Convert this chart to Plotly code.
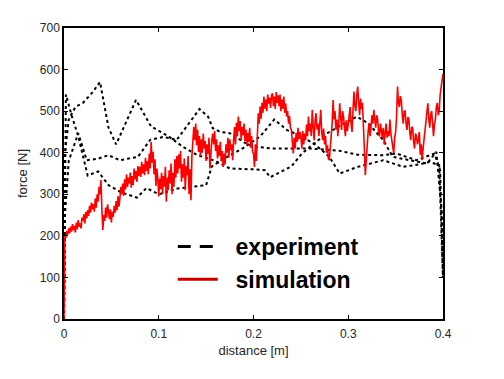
import numpy as np
import plotly.graph_objects as go

# ---------------- data ----------------
exp_a_x = [0, 0.001, 0.002, 0.008, 0.015, 0.025, 0.036, 0.047, 0.06, 0.077, 0.087, 0.1, 0.12,
           0.15, 0.156, 0.172, 0.189, 0.207, 0.222, 0.235, 0.25, 0.265, 0.28, 0.291, 0.31,
           0.337, 0.358, 0.375, 0.386, 0.396, 0.399, 0.4]
exp_a_y = [0, 300, 540, 490, 440, 345, 355, 322, 305, 292, 315, 300, 314,
           322, 367, 390, 411, 439, 480, 455, 440, 420, 390, 350, 366,
           382, 366, 372, 378, 370, 200, 100]

exp_b_x = [0, 0.001, 0.005, 0.012, 0.02, 0.03, 0.038, 0.047, 0.055, 0.065, 0.076, 0.092, 0.11,
           0.125, 0.14, 0.16, 0.175, 0.2, 0.212, 0.2175, 0.24, 0.251, 0.277, 0.309, 0.321,
           0.337, 0.347, 0.365, 0.383, 0.393, 0.399, 0.4]
exp_b_y = [0, 400, 480, 510, 520, 545, 570, 460, 420, 470, 527, 463, 440,
           415, 395, 380, 362, 360, 358, 341, 367, 398, 446, 487, 471,
           430, 390, 382, 374, 402, 250, 120]

exp_c_x = [0, 0.001, 0.005, 0.012, 0.015, 0.024, 0.035, 0.047, 0.059, 0.078, 0.091, 0.105,
           0.119, 0.143, 0.152, 0.157, 0.165, 0.175, 0.19, 0.2, 0.22, 0.26, 0.29, 0.31,
           0.337, 0.351, 0.372, 0.391, 0.397, 0.4]
exp_c_y = [0, 250, 380, 430, 447, 382, 385, 394, 382, 390, 431, 438,
           431, 505, 487, 459, 450, 447, 425, 415, 410, 410, 405, 395,
           394, 398, 382, 398, 358, 100]

sim_force = [
    0, 200, 195, 212, 203, 218, 206, 222, 210, 228, 214, 224, 208, 232, 216, 238, 222, 230, 218, 244,
    236, 252, 230, 258, 242, 262, 248, 272, 256, 280, 264, 276, 258, 290, 268, 300, 282, 318, 300, 334,
    262, 214, 250, 236, 268, 244, 276, 252, 240, 264, 232, 258, 246, 272, 256, 284, 262, 296, 270, 290,
    318, 300, 326, 296, 336, 312, 348, 318, 340, 326, 352, 316, 344, 322, 362, 336, 356, 330, 368, 344,
    366, 342, 378, 350, 372, 346, 388, 356, 380, 348, 398, 362, 426, 376, 402, 348, 384, 320, 362, 338,
    295, 338, 312, 352, 300, 344, 318, 366, 282, 340, 310, 358, 326, 374, 300, 352, 318, 384, 340, 392,
    350, 396, 362, 404, 330, 372, 340, 386, 310, 368, 346, 392, 300, 360, 286, 392, 420, 462, 430, 470,
    418, 455, 402, 440, 392, 432, 400, 446, 410, 428, 380, 420, 398, 436, 362, 410, 430, 446, 420, 452,
    404, 432, 386, 418, 392, 426, 380, 404, 366, 398, 372, 420, 400, 436, 388, 432, 406, 420, 382, 430,
    462, 420, 472, 440, 487, 452, 476, 430, 462, 442, 470, 428, 456, 418, 448, 426, 460, 412, 440, 402,
    398, 366, 420, 380, 462, 495, 470, 511, 482, 520, 496, 535, 506, 528, 500, 540, 518, 532, 508, 538,
    543, 512, 535, 505, 546, 520, 538, 512, 540, 500, 528, 506, 535, 496, 518, 487, 500, 470, 488, 460,
    455, 420, 398, 436, 410, 448, 426, 460, 432, 450, 439, 410, 452, 420, 446, 430, 468, 440, 487, 452,
    470, 440, 503, 462, 430, 478, 495, 456, 470, 440, 482, 503, 450, 430, 458, 420, 440, 400, 418, 386,
    382, 410, 440, 470, 527, 480, 500, 456, 480, 440, 470, 519, 486, 455, 500, 487, 462, 440, 478, 452,
    470, 498, 510, 470, 450, 500, 547, 512, 500, 540, 559, 520, 490, 530, 505, 520, 440, 410, 346, 390,
    420, 452, 471, 440, 462, 490, 470, 503, 480, 460, 490, 480, 452, 439, 470, 455, 436, 460, 420, 448,
    470, 436, 452, 440, 480, 446, 430, 410, 398, 436, 450, 486, 559, 520, 510, 536, 527, 490, 470, 500,
    500, 470, 455, 486, 480, 448, 430, 462, 460, 426, 410, 446, 440, 420, 430, 450, 395, 420, 382, 410,
    430, 460, 470, 500, 519, 480, 460, 492, 500, 470, 440, 470, 480, 510, 520, 490, 500, 540, 560, 575,
    590,
]
sim_x = np.linspace(0, 0.4, len(sim_force))

x_ticks = [0, 0.1, 0.2, 0.3, 0.4]
x_tick_labels = ["0", "0.1", "0.2", "0.3", "0.4"]
y_ticks = [0, 100, 200, 300, 400, 500, 600, 700]

# ---------------- figure ----------------
fig = go.Figure()
dash_style = dict(color="black", width=2, dash="3px,3px")
for xs, ys in [(exp_a_x, exp_a_y), (exp_b_x, exp_b_y), (exp_c_x, exp_c_y)]:
    fig.add_trace(go.Scatter(x=xs, y=ys, mode="lines", line=dash_style, showlegend=False))

fig.add_trace(go.Scatter(x=sim_x, y=sim_force, mode="lines",
                         line=dict(color="#ff0000", width=1.6), showlegend=False))

# legend entries
fig.add_trace(go.Scatter(x=[None], y=[None], mode="lines", name="\u00a0\u00a0experiment",
                         line=dict(color="black", width=3, dash="13px,9px")))
fig.add_trace(go.Scatter(x=[None], y=[None], mode="lines", name="\u00a0\u00a0simulation",
                         line=dict(color="#c00000", width=3)))

font_fam = "Liberation Sans, Arial"
axis_common = dict(
    showline=True, linecolor="black", linewidth=1.5, mirror="allticks",
    ticks="inside", ticklen=4, tickcolor="black", tickwidth=1,
    showgrid=False, zeroline=False, automargin=False,
    tickfont=dict(family=font_fam, size=12, color="#262626"),
)

fig.update_xaxes(range=[0, 0.4], tickvals=x_ticks, ticktext=x_tick_labels, ticklabelstandoff=3,
                 title=dict(text="distance [m]", font=dict(family=font_fam, size=13, color="#262626"),
                            standoff=6),
                 **axis_common)
fig.update_yaxes(range=[0, 700], tickvals=y_ticks,
                 title=dict(text="force [N]", font=dict(family=font_fam, size=13, color="#262626"),
                            standoff=9),
                 **axis_common)

fig.update_layout(
    width=496, height=371,
    margin=dict(l=56, r=61, t=20, b=60),
    paper_bgcolor="white", plot_bgcolor="white",
    legend=dict(x=0.287, y=0.323, xanchor="left", yanchor="top",
                bgcolor="rgba(0,0,0,0)", borderwidth=0,
                font=dict(family=font_fam, size=23, color="black", weight="bold"),
                itemwidth=40, tracegroupgap=0),
    showlegend=True,
)

fig.write_html("out.html")
